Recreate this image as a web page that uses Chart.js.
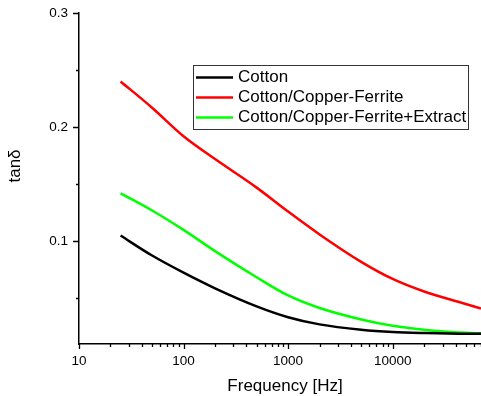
<!DOCTYPE html>
<html>
<head>
<meta charset="utf-8">
<script src="https://cdn.jsdelivr.net/npm/chart.js@4"></script>
<style>
  html, body { margin: 0; padding: 0; background: #fff; overflow: hidden; }
  #chart { display: block; }
</style>
</head>
<body>
<canvas id="chart" width="481" height="396"></canvas>
<script>
// values
const freq = [25, 50, 100, 200, 500, 1000, 2000, 5000, 10000, 20000, 50000, 70000];
const cotton = [0.105, 0.0875, 0.0725, 0.0588, 0.043, 0.0335, 0.0272, 0.0225, 0.0205, 0.0196, 0.019, 0.019];
const cottonFerrite = [0.240, 0.217, 0.192, 0.172, 0.147, 0.126, 0.106, 0.082, 0.067, 0.056, 0.0451, 0.0411];
const cottonFerriteExtract = [0.142, 0.127, 0.110, 0.0914, 0.0685, 0.0525, 0.0415, 0.0315, 0.026, 0.0225, 0.0198, 0.0194];
const seriesNames = ['Cotton', 'Cotton/Copper-Ferrite', 'Cotton/Copper-Ferrite+Extract'];
const seriesColors = ['#000000', '#ff0000', '#00ff00'];

const xLabelTicks = [10, 100, 1000, 10000];
const yTicks = [0.05, 0.1, 0.15, 0.2, 0.25, 0.3];
const yLabelTicks = [0.1, 0.2, 0.3];

const FONT = 'Arial, "Liberation Sans", sans-serif';

// minor ticks 10,20,...,90,100,200,... up to the axis end
const xTicks = [];
xLabelTicks.forEach(d => {
    for (let k = 1; k <= 9; k++) {
        if (d * k <= 70000) xTicks.push(d * k);
    }
});

function toPoints(values){
    return freq.map((f, i) => ({ x: f, y: values[i] }));
}

const decor = {
    id: 'decor',
    afterDraw(chart){
        const { ctx, chartArea, scales } = chart;
        const xs = scales.x, ys = scales.y;
        ctx.save();
        ctx.strokeStyle = '#000';
        ctx.lineWidth = 1.3;
        ctx.beginPath();
        xs.ticks.forEach(t => {
            const px = Math.round(xs.getPixelForValue(t.value)) + 0.5;
            const len = xLabelTicks.includes(t.value) ? 5 : 3;
            ctx.moveTo(px, chartArea.bottom);
            ctx.lineTo(px, chartArea.bottom + len);
        });
        ys.ticks.forEach(t => {
            const py = Math.round(ys.getPixelForValue(t.value)) + 0.5;
            const len = yLabelTicks.some(v => Math.abs(v - t.value) < 1e-9) ? 6 : 3;
            ctx.moveTo(chartArea.left, py);
            ctx.lineTo(chartArea.left - len, py);
        });
        ctx.stroke();

        // axis titles
        ctx.fillStyle = '#000';
        ctx.font = '17px ' + FONT;
        ctx.textAlign = 'center';
        ctx.textBaseline = 'middle';
        ctx.fillText('Frequency [Hz]', 285, 386);
        ctx.save();
        ctx.translate(15, 166);
        ctx.rotate(-Math.PI / 2);
        ctx.fillText('tanδ', 0, 0);
        ctx.restore();

        // legend box
        ctx.strokeStyle = '#333';
        ctx.lineWidth = 1;
        ctx.strokeRect(193.5, 65.5, 275, 64);
        ctx.textAlign = 'left';
        chart.data.datasets.forEach((ds, i) => {
            const y = 77.5 + i * 20;
            ctx.strokeStyle = ds.borderColor;
            ctx.lineWidth = 2.5;
            ctx.beginPath();
            ctx.moveTo(196, y);
            ctx.lineTo(233, y);
            ctx.stroke();
            ctx.fillText(ds.label, 238, y);
        });
        ctx.restore();
    }
};

Chart.defaults.color = '#000';
Chart.defaults.font.family = FONT;

const ctx = document.getElementById('chart').getContext('2d');
const myChart = new Chart(ctx, {
    type: 'line',
    data: {
        datasets: [cotton, cottonFerrite, cottonFerriteExtract].map((vals, i) => ({
            label: seriesNames[i],
            data: toPoints(vals),
            borderColor: seriesColors[i],
            backgroundColor: seriesColors[i],
            borderWidth: 2.5,
            pointRadius: 0,
            cubicInterpolationMode: 'monotone',
            fill: false
        }))
    },
    options: {
        responsive: false,
        animation: false,
        layout: { padding: { top: 13, right: 0, left: 0, bottom: 0 } },
        plugins: { legend: { display: false }, tooltip: { enabled: false } },
        scales: {
            x: {
                type: 'logarithmic',
                min: 10,
                max: 70000,
                grid: { display: false, drawTicks: false },
                border: { display: true, color: '#000', width: 1.5 },
                afterBuildTicks: s => { s.ticks = xTicks.map(v => ({ value: v })); },
                afterFit: s => { s.height = 52; s.paddingLeft = 0; s.paddingRight = 0; },
                ticks: {
                    autoSkip: false,
                    maxRotation: 0,
                    padding: 9,
                    font: { size: 13.5 },
                    callback: v => xLabelTicks.includes(v) ? String(v) : ''
                }
            },
            y: {
                min: 0.01,
                max: 0.3,
                grid: { display: false, drawTicks: false },
                border: { display: true, color: '#000', width: 1.5 },
                afterBuildTicks: s => { s.ticks = yTicks.map(v => ({ value: v })); },
                afterFit: s => { s.width = 79; s.paddingTop = 0; s.paddingBottom = 0; },
                ticks: {
                    autoSkip: false,
                    padding: 11,
                    font: { size: 13.5 },
                    callback: v => {
                        const hit = yLabelTicks.find(t => Math.abs(t - v) < 1e-9);
                        return hit !== undefined ? hit.toFixed(1) : '';
                    }
                }
            }
        }
    },
    plugins: [decor]
});
</script>
</body>
</html>
